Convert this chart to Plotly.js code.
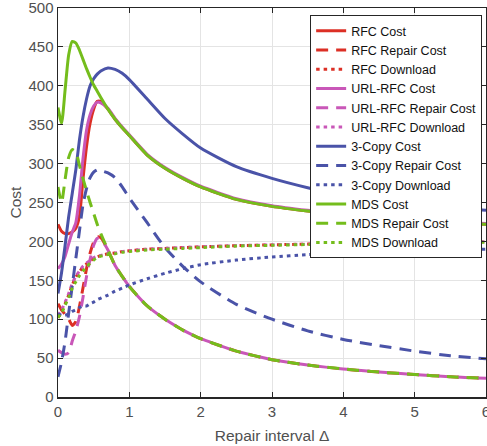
<!DOCTYPE html>
<html>
<head>
<meta charset="utf-8">
<script src="https://cdn.plot.ly/plotly-3.0.1.min.js"></script>
<style>html,body{margin:0;padding:0;background:#fff;}#chart{width:487px;height:446px;}</style>
</head>
<body>
<div id="chart"></div>
<script>
// Repair interval values (x)
const delta = [0, 0.05, 0.1, 0.15, 0.2, 0.25, 0.3, 0.35, 0.4, 0.45, 0.5, 0.55, 0.6, 0.7, 0.8, 0.9, 1.0, 1.25, 1.5, 1.75, 2, 2.5, 3, 3.5, 4, 4.5, 5, 5.5, 6];

// RFC
const rfcCost     = [222, 213, 210, 210, 212, 217, 232, 280, 322, 352, 370, 380, 380, 370, 357, 346, 336, 311, 294, 281, 270, 254, 245, 239, 234, 230, 227, 224, 222];
const rfcRepair   = [120, 112, 106, 100, 92, 97, 116, 140, 165, 185, 199, 206, 205, 189, 169, 155, 142, 117, 100, 86, 75, 59, 48, 41, 36, 32, 29, 26, 24];
const rfcDownload = [102, 110, 120, 131, 144, 154, 161, 167, 171, 175, 178, 180, 182, 184, 185, 187, 188, 190, 191, 192, 193, 194.5, 195.5, 196.5, 197, 198, 198.5, 199, 199.5];

// URL-RFC
const urlCost     = [165, 171, 181, 197, 212, 224, 258, 306, 343, 363, 374, 379, 378, 371, 358, 347, 337, 312, 295, 282, 271, 255, 246, 240, 235, 231, 228, 225, 223];
const urlRepair   = [60, 57, 55, 57, 72, 85, 103, 128, 155, 177, 195, 204, 203, 189, 169, 155, 142, 117, 100, 86, 75, 59, 48, 41, 36, 32, 29, 26, 24];
const urlDownload = [105, 112, 122, 133, 146, 155, 162, 168, 172, 176, 179, 181, 182, 184, 185, 187, 188, 190, 191, 192, 193, 194.5, 195.5, 196.5, 197, 198, 198.5, 199, 199.5];

// 3-Copy
const copyCost     = [133, 160, 195, 232, 262, 292, 330, 360, 383, 400, 409, 415, 419, 423, 421, 416, 408, 383, 358, 338, 320, 296, 281, 269, 259, 252, 246, 243, 240];
const copyRepair   = [26, 45, 72, 108, 143, 178, 213, 247, 268, 282, 289, 292, 291, 288, 282, 270, 256, 224, 192, 168, 148, 119, 100, 85, 74, 66, 59, 53, 49];
const copyDownload = [107, 105, 105, 107, 110, 112, 115, 117, 117, 120, 122, 125, 127, 131, 136, 140, 144, 152, 159, 165, 170, 176, 180, 183, 185, 186.5, 187.5, 189, 190];

// MDS
const mdsCost     = [372, 352, 395, 440, 457, 455, 446, 434, 422, 411, 401, 393, 385, 370, 357, 346, 336, 311, 294, 281, 270, 254, 245, 239, 234, 230, 227, 224, 222];
const mdsRepair   = [270, 250, 280, 308, 318, 315, 298, 281, 265, 250, 236, 222, 210, 189, 169, 155, 142, 117, 100, 86, 75, 59, 48, 41, 36, 32, 29, 26, 24];
const mdsDownload = [102, 108, 118, 128, 140, 148, 156, 162, 167, 172, 176, 179, 181, 183, 184, 186, 187, 189, 190, 191, 192, 194, 195, 196, 197, 197.5, 198, 198.5, 199];

const names = ['RFC Cost','RFC Repair Cost','RFC Download','URL-RFC Cost','URL-RFC Repair Cost','URL-RFC Download','3-Copy Cost','3-Copy Repair Cost','3-Copy Download','MDS Cost','MDS Repair Cost','MDS Download'];
const series = [rfcCost, rfcRepair, rfcDownload, urlCost, urlRepair, urlDownload, copyCost, copyRepair, copyDownload, mdsCost, mdsRepair, mdsDownload];

const colors = ['#dc2f25', '#c957b8', '#4a53a8', '#74bd1c'];
const dashes = ['solid', '12px,8px', '3.5px,4px'];

const traces = series.map((ys, i) => ({
  x: delta,
  y: ys,
  name: names[i],
  type: 'scatter',
  mode: 'lines',
  line: {color: colors[Math.floor(i / 3)], width: 3, dash: dashes[i % 3], shape: 'spline', smoothing: 0.6}
}));

const axisCommon = {
  ticks: 'inside', ticklen: 5, tickwidth: 1, tickcolor: '#262626',
  showline: true, linecolor: '#262626', linewidth: 1.5, mirror: 'ticks',
  showgrid: true, gridcolor: '#e4e4e4', gridwidth: 1, zeroline: false,
  ticklabeloverflow: 'allow',
  tickfont: {family: 'Liberation Sans, Arial, sans-serif', size: 15, color: '#505050'}
};

const layout = {
  width: 487, height: 446,
  margin: {l: 58, r: 1, t: 8, b: 49, pad: 0},
  paper_bgcolor: '#fff', plot_bgcolor: '#fff',
  font: {family: 'Liberation Sans, Arial, sans-serif', color: '#505050'},
  showlegend: true,
  xaxis: Object.assign({}, axisCommon, {
    range: [0, 6], tick0: 0, dtick: 1,
    title: {text: 'Repair interval Δ', font: {size: 15.5, color: '#505050'}, standoff: 11}
  }),
  yaxis: Object.assign({}, axisCommon, {
    range: [0, 500], tick0: 0, dtick: 50,
    title: {text: 'Cost', font: {size: 15.5, color: '#505050'}, standoff: 3}
  }),
  legend: {
    x: 0.991, xanchor: 'right', y: 0.982, yanchor: 'top',
    bgcolor: '#fff', bordercolor: '#262626', borderwidth: 1,
    font: {family: 'Liberation Sans, Arial, sans-serif', size: 12.5, color: '#111'},
    tracegroupgap: 0
  }
};

Plotly.newPlot('chart', traces, layout, {displayModeBar: false, staticPlot: true});
</script>
</body>
</html>
